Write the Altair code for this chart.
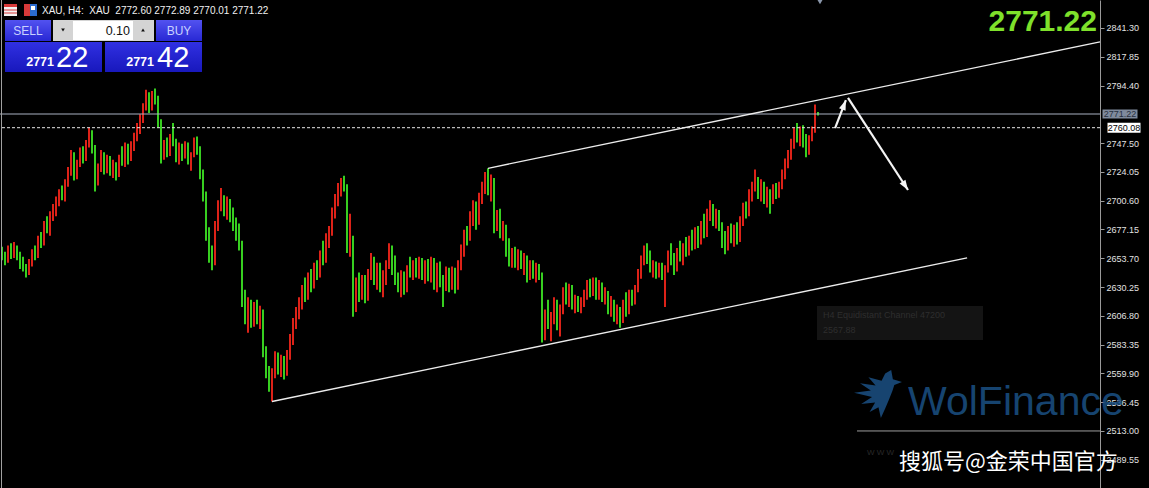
import altair as alt
import pandas as pd

# ---- XAU H4 bars, oldest first ----
opens = [
    2660, 2656, 2652, 2660, 2655, 2662, 2657, 2650, 2646, 2641,
    2650, 2658, 2655, 2669, 2666, 2680, 2677, 2689, 2694, 2700,
    2707, 2704, 2715, 2725, 2738, 2721, 2731, 2740, 2735, 2747,
    2755, 2742, 2716, 2728, 2738, 2726, 2735, 2724, 2730, 2722,
    2735, 2732, 2744, 2736, 2746, 2753, 2761, 2768, 2777, 2786,
    2776, 2787, 2783, 2764, 2738, 2746, 2740, 2751, 2748, 2736,
    2744, 2737, 2745, 2733, 2738, 2749, 2741, 2722, 2704, 2672,
    2656, 2650, 2680, 2697, 2700, 2693, 2698, 2688, 2680, 2672,
    2666, 2620, 2606, 2616, 2603, 2612, 2605, 2610, 2578, 2561,
    2550, 2560, 2572, 2563, 2570, 2560, 2575, 2588, 2600, 2608,
    2618, 2627, 2622, 2638, 2632, 2646, 2641, 2656, 2652, 2670,
    2676, 2690, 2702, 2710, 2714, 2712, 2664, 2668, 2615, 2632,
    2624, 2636, 2621, 2641, 2652, 2638, 2645, 2630, 2640, 2648,
    2660, 2645, 2637, 2630, 2640, 2628, 2645, 2642, 2649, 2641,
    2651, 2640, 2648, 2638, 2650, 2632, 2646, 2634, 2630, 2642,
    2632, 2643, 2630, 2648, 2660, 2672, 2670, 2688, 2696, 2684,
    2702, 2712, 2718, 2709, 2716, 2680, 2690, 2675, 2679, 2660,
    2652, 2657, 2650, 2656, 2648, 2653, 2638, 2648, 2641, 2646,
    2640, 2592, 2608, 2600, 2604, 2617, 2599, 2612, 2626, 2620,
    2629, 2616, 2620, 2614, 2618, 2625, 2632, 2626, 2634, 2624,
    2631, 2622, 2625, 2612, 2618, 2606, 2611, 2603, 2616, 2610,
    2624, 2619, 2629, 2641, 2652, 2660, 2654, 2646, 2649, 2641,
    2647, 2640, 2645, 2656, 2652, 2646, 2658, 2655, 2662, 2659,
    2668, 2664, 2675, 2668, 2680, 2674, 2690, 2695, 2684, 2690,
    2680, 2667, 2664, 2676, 2670, 2678, 2669, 2685, 2695, 2690,
    2706, 2712, 2716, 2706, 2713, 2703, 2708, 2700, 2710, 2706,
    2713, 2722, 2731, 2738, 2747, 2756, 2752, 2758, 2748, 2742,
    2751, 2758, 2772.60,
]
highs = [
    2663, 2659, 2664, 2666, 2667, 2664, 2659, 2655, 2649, 2653,
    2661, 2664, 2672, 2675, 2684, 2688, 2692, 2698, 2704, 2710,
    2713, 2718, 2728, 2742, 2740, 2734, 2744, 2745, 2750, 2760,
    2758, 2746, 2731, 2742, 2740, 2738, 2737, 2734, 2732, 2738,
    2745, 2748, 2747, 2749, 2756, 2764, 2771, 2780, 2791, 2789,
    2790, 2792, 2786, 2767, 2750, 2752, 2755, 2764, 2751, 2748,
    2747, 2749, 2748, 2740, 2752, 2753, 2745, 2726, 2708, 2679,
    2664, 2684, 2701, 2711, 2705, 2704, 2702, 2695, 2687, 2682,
    2668, 2628, 2622, 2620, 2618, 2620, 2615, 2612, 2582, 2566,
    2564, 2578, 2577, 2575, 2574, 2579, 2592, 2605, 2614, 2622,
    2632, 2638, 2642, 2645, 2650, 2652, 2660, 2668, 2674, 2680,
    2695, 2706, 2715, 2719, 2721, 2714, 2690, 2672, 2638, 2642,
    2640, 2640, 2645, 2658, 2655, 2650, 2650, 2644, 2652, 2666,
    2664, 2656, 2642, 2644, 2643, 2648, 2655, 2652, 2654, 2655,
    2654, 2652, 2653, 2655, 2654, 2650, 2651, 2640, 2647, 2646,
    2647, 2646, 2652, 2665, 2677, 2680, 2692, 2701, 2700, 2707,
    2716, 2724, 2727, 2722, 2719, 2693, 2694, 2684, 2681, 2670,
    2662, 2663, 2661, 2660, 2658, 2656, 2652, 2652, 2650, 2649,
    2642, 2612, 2620, 2610, 2622, 2620, 2616, 2630, 2634, 2633,
    2632, 2624, 2623, 2622, 2628, 2636, 2637, 2638, 2638, 2636,
    2634, 2630, 2627, 2623, 2620, 2616, 2614, 2620, 2626, 2628,
    2628, 2632, 2645, 2656, 2664, 2666, 2660, 2652, 2651, 2650,
    2650, 2648, 2660, 2666, 2658, 2662, 2668, 2666, 2671, 2672,
    2677, 2679, 2680, 2684, 2690, 2694, 2701, 2698, 2694, 2693,
    2683, 2676, 2680, 2682, 2681, 2683, 2688, 2699, 2700, 2710,
    2716, 2726, 2720, 2718, 2716, 2712, 2710, 2714, 2715, 2716,
    2726, 2735, 2742, 2751, 2760, 2764, 2761, 2762, 2755, 2754,
    2761, 2779, 2772.89,
]
lows = [
    2652, 2648, 2650, 2653, 2654, 2652, 2645, 2643, 2638, 2640,
    2647, 2652, 2654, 2662, 2664, 2674, 2672, 2684, 2688, 2696,
    2701, 2700, 2712, 2721, 2717, 2718, 2728, 2731, 2733, 2744,
    2739, 2708, 2713, 2724, 2722, 2723, 2721, 2719, 2717, 2720,
    2729, 2728, 2730, 2733, 2741, 2749, 2755, 2764, 2774, 2772,
    2774, 2779, 2760, 2731, 2734, 2736, 2737, 2745, 2732, 2730,
    2733, 2735, 2730, 2725, 2736, 2738, 2718, 2700, 2668, 2650,
    2644, 2648, 2676, 2692, 2688, 2685, 2683, 2676, 2668, 2660,
    2614, 2600, 2593, 2597, 2598, 2600, 2596, 2573, 2556, 2545,
    2537, 2556, 2559, 2557, 2555, 2558, 2571, 2583, 2596, 2604,
    2612, 2618, 2620, 2626, 2629, 2636, 2638, 2648, 2650, 2662,
    2672, 2686, 2696, 2704, 2708, 2658, 2655, 2606, 2610, 2618,
    2620, 2617, 2619, 2636, 2632, 2628, 2626, 2622, 2632, 2645,
    2640, 2632, 2626, 2622, 2624, 2626, 2638, 2636, 2638, 2637,
    2636, 2633, 2635, 2634, 2628, 2626, 2630, 2614, 2627, 2626,
    2628, 2625, 2628, 2644, 2655, 2664, 2668, 2680, 2677, 2681,
    2698, 2706, 2705, 2700, 2674, 2676, 2670, 2668, 2655, 2647,
    2646, 2646, 2644, 2645, 2640, 2634, 2636, 2637, 2634, 2636,
    2585, 2587, 2596, 2586, 2600, 2595, 2590, 2608, 2616, 2614,
    2612, 2609, 2610, 2609, 2614, 2620, 2622, 2623, 2620, 2620,
    2618, 2616, 2608, 2606, 2602, 2600, 2597, 2601, 2606, 2608,
    2615, 2616, 2626, 2637, 2648, 2649, 2642, 2638, 2637, 2638,
    2636, 2614, 2642, 2648, 2640, 2643, 2651, 2648, 2655, 2656,
    2660, 2661, 2662, 2665, 2670, 2671, 2684, 2680, 2678, 2676,
    2662, 2657, 2660, 2666, 2663, 2665, 2667, 2680, 2686, 2688,
    2700, 2708, 2702, 2700, 2698, 2695, 2690, 2698, 2702, 2703,
    2710, 2718, 2727, 2734, 2743, 2748, 2745, 2744, 2736, 2738,
    2749, 2756, 2770.01,
]
closes = [
    2656, 2652, 2660, 2655, 2662, 2657, 2650, 2646, 2641, 2650,
    2658, 2655, 2669, 2666, 2680, 2677, 2689, 2694, 2700, 2707,
    2704, 2715, 2725, 2738, 2721, 2731, 2740, 2735, 2747, 2755,
    2742, 2716, 2728, 2738, 2726, 2735, 2724, 2730, 2722, 2735,
    2732, 2744, 2736, 2746, 2753, 2761, 2768, 2777, 2786, 2776,
    2787, 2783, 2764, 2738, 2746, 2740, 2751, 2748, 2736, 2744,
    2737, 2745, 2733, 2738, 2749, 2741, 2722, 2704, 2672, 2656,
    2650, 2680, 2697, 2700, 2693, 2698, 2688, 2680, 2672, 2666,
    2620, 2606, 2616, 2603, 2612, 2605, 2610, 2578, 2561, 2550,
    2560, 2572, 2563, 2570, 2560, 2575, 2588, 2600, 2608, 2618,
    2627, 2622, 2638, 2632, 2646, 2641, 2656, 2652, 2670, 2676,
    2690, 2702, 2710, 2714, 2712, 2664, 2668, 2615, 2632, 2624,
    2636, 2621, 2641, 2652, 2638, 2645, 2630, 2640, 2648, 2660,
    2645, 2637, 2630, 2640, 2628, 2645, 2642, 2649, 2641, 2651,
    2640, 2648, 2638, 2650, 2632, 2646, 2634, 2630, 2642, 2632,
    2643, 2630, 2648, 2660, 2672, 2670, 2688, 2696, 2684, 2702,
    2712, 2718, 2709, 2716, 2680, 2690, 2675, 2679, 2660, 2652,
    2657, 2650, 2656, 2648, 2653, 2638, 2648, 2641, 2646, 2640,
    2592, 2608, 2600, 2604, 2617, 2599, 2612, 2626, 2620, 2629,
    2616, 2620, 2614, 2618, 2625, 2632, 2626, 2634, 2624, 2631,
    2622, 2625, 2612, 2618, 2606, 2611, 2603, 2616, 2610, 2624,
    2619, 2629, 2641, 2652, 2660, 2654, 2646, 2649, 2641, 2647,
    2640, 2645, 2656, 2652, 2646, 2658, 2655, 2662, 2659, 2668,
    2664, 2675, 2668, 2680, 2674, 2690, 2695, 2684, 2690, 2680,
    2667, 2664, 2676, 2670, 2678, 2669, 2685, 2695, 2690, 2706,
    2712, 2716, 2706, 2713, 2703, 2708, 2700, 2710, 2706, 2713,
    2722, 2731, 2738, 2747, 2756, 2752, 2758, 2748, 2742, 2751,
    2758, 2772.60, 2771.22,
]

# ---- objects drawn on the price scale (bar index, price) ----
bid_price = 2771.22
alert_price = 2760.08
level_price = 2513.00
level_start = 285.0
channel_top_i = [162.0, 366.0]
channel_top_p = [2727.0, 2830.0]
channel_low_i = [90.0, 321.7]
channel_low_p = [2537.0, 2654.0]
arrow_up_i = [277.7, 281.3]
arrow_up_p = [2759.8, 2782.6]
arrow_down_i = [282.0, 302.0]
arrow_down_p = [2784.3, 2709.3]

tick_values = [2841.30, 2817.85, 2794.40, 2747.50, 2724.05, 2700.60, 2677.15,
               2653.70, 2630.25, 2606.80, 2583.35, 2559.90, 2536.45, 2513.00, 2489.55]

Y_DOMAIN = [2466.53, 2864.11]
X_DOMAIN = [-0.6667, 366.0]
RED = "#e8241a"
GREEN = "#3ada22"
FONT = "Liberation Sans"

bars = pd.DataFrame({"i": list(range(len(closes))), "o": opens, "h": highs, "l": lows, "c": closes})
bars["dir"] = ["up" if c >= o else "down" for o, c in zip(opens, closes)]

xscale = alt.Scale(domain=X_DOMAIN, nice=False, zero=False)
yscale = alt.Scale(domain=Y_DOMAIN, nice=False, zero=False)

# the same axis definition is given to every layer so the merged axis survives
price_axis = alt.Axis(
    orient="right", values=tick_values, format=".2f", title=None, grid=False,
    domainColor="#9a9a9a", tickColor="#9a9a9a", tickSize=4, labelPadding=2,
    labelColor="#e2e2e2", labelFont=FONT, labelFontSize=9, labelOverlap=False,
)


def Yp(field):
    return alt.Y(field, scale=yscale, axis=price_axis)


def Xi(field):
    return alt.X(field, scale=xscale, axis=None)


bar_layer = alt.Chart(bars).mark_rule(strokeWidth=1.9).encode(
    x=Xi("i:Q"),
    y=Yp("l:Q"),
    y2="h:Q",
    color=alt.Color("dir:N", scale=alt.Scale(domain=["up", "down"], range=[RED, GREEN]), legend=None),
)


def seg(xs, ps, color, width, dash=None):
    df = pd.DataFrame({"i": xs, "l": ps})
    kw = dict(color=color, strokeWidth=width)
    if dash:
        kw["strokeDash"] = dash
    return alt.Chart(df).mark_line(**kw).encode(x=Xi("i:Q"), y=Yp("l:Q"))


def hline(price, color, width=1, dash=None):
    df = pd.DataFrame({"l": [price]})
    kw = dict(color=color, strokeWidth=width)
    if dash:
        kw["strokeDash"] = dash
    return alt.Chart(df).mark_rule(**kw).encode(y=Yp("l:Q"))


one = pd.DataFrame({"k": [0]})


def text_at(txt, x, y, size, color, weight="normal", align="left", font=FONT,
            baseline="middle", opacity=1.0):
    return alt.Chart(one).mark_text(
        align=align, baseline=baseline, font=font, fontSize=size,
        fontWeight=weight, color=color, opacity=opacity,
    ).encode(x=alt.value(x), y=alt.value(y), text=alt.value(txt))


def rect_at(x, y, x2, y2, fill, opacity=1.0):
    return alt.Chart(one).mark_rect(fill=fill, opacity=opacity).encode(
        x=alt.value(x), x2=alt.value(x2), y=alt.value(y), y2=alt.value(y2))


def symbol_at(shape, x, y, size, color, angle=0, opacity=1.0):
    return alt.Chart(one).mark_point(
        shape=shape, size=size, filled=True, color=color, opacity=opacity,
        angle=angle, strokeWidth=0,
    ).encode(x=alt.value(x), y=alt.value(y))


ARROW_HEAD = "M0,0L0.45,1.3L-0.45,1.3Z"
# howling wolf head with swept fur, nose to the upper right
WOLF = ("M0.55,-1L0.62,-0.62L1,-0.5L0.68,-0.38L0.6,-0.12L0.45,0.25L0.3,0.6L0.12,1"
        "L0.02,0.55L-0.35,0.75L-0.12,0.35L-0.7,0.42L-0.25,0.12L-1,-0.05L-0.3,-0.15"
        "L-0.75,-0.45L-0.1,-0.35L-0.4,-0.7L0.15,-0.55L0.3,-0.85Z")

# price-scale objects
bid_line = hline(bid_price, "#a9b1c2")
alert_line = hline(alert_price, "#e6e6e6", dash=[3, 2])
level_line = alt.Chart(pd.DataFrame({"a": [level_start], "b": [X_DOMAIN[1]], "l": [level_price]})).mark_rule(
    color="#9c9c9c", strokeWidth=1).encode(x=Xi("a:Q"), x2="b:Q", y=Yp("l:Q"))

top_channel = seg(channel_top_i, channel_top_p, "#ececec", 1.3)
low_channel = seg(channel_low_i, channel_low_p, "#ececec", 1.3)
up_arrow = seg(arrow_up_i, arrow_up_p, "#f4f4f4", 2.2)
down_arrow = seg(arrow_down_i, arrow_down_p, "#f4f4f4", 2.2)


def head(i, p, angle):
    df = pd.DataFrame({"i": [i], "l": [p]})
    return alt.Chart(df).mark_point(shape=ARROW_HEAD, size=240, filled=True, color="#f4f4f4",
                                    opacity=1, angle=angle, strokeWidth=0).encode(
        x=Xi("i:Q"), y=Yp("l:Q"))


up_head = head(arrow_up_i[1], arrow_up_p[1], 21)
down_head = head(arrow_down_i[1], arrow_down_p[1], 147)

# price tags on the axis
bid_tag = alt.Chart(pd.DataFrame({"l": [bid_price]})).mark_tick(
    orient="horizontal", size=35, thickness=9, color="#7f8a9c", opacity=1).encode(
    x=alt.value(1120), y=Yp("l:Q"))
bid_tag_text = alt.Chart(pd.DataFrame({"l": [bid_price], "t": ["2771.22"]})).mark_text(
    align="center", baseline="middle", font=FONT, fontSize=9, color="#27303f").encode(
    x=alt.value(1120), y=Yp("l:Q"), text="t:N")
alert_tag = alt.Chart(pd.DataFrame({"l": [alert_price]})).mark_tick(
    orient="horizontal", size=33, thickness=10, color="#ffffff", opacity=1).encode(
    x=alt.value(1124), y=Yp("l:Q"))
alert_tag_text = alt.Chart(pd.DataFrame({"l": [alert_price], "t": ["2760.08"]})).mark_text(
    align="center", baseline="middle", font=FONT, fontSize=9, color="#000000").encode(
    x=alt.value(1124), y=Yp("l:Q"), text="t:N")

# one-click trading panel
btn_grad = alt.Gradient(gradient="linear", x1=0, x2=0, y1=0, y2=1, stops=[
    alt.GradientStop(color="#5252f0", offset=0), alt.GradientStop(color="#2828d4", offset=1)])
box_grad = alt.Gradient(gradient="linear", x1=0, x2=0, y1=0, y2=1, stops=[
    alt.GradientStop(color="#3030e2", offset=0), alt.GradientStop(color="#1818bc", offset=1)])

panel = [
    rect_at(5, 20, 51, 41, btn_grad),
    rect_at(156, 20, 202, 41, btn_grad),
    rect_at(53, 20, 154, 41, "#d4d4d4"),
    rect_at(73, 21, 133, 40, "#ffffff"),
    rect_at(5, 42, 102, 72, box_grad),
    rect_at(105, 42, 202, 72, box_grad),
    text_at("SELL", 28, 31, 12, "#c9d2ff", align="center"),
    text_at("BUY", 179, 31, 12, "#c9d2ff", align="center"),
    text_at("0.10", 130, 31, 12.5, "#111111", align="right"),
    symbol_at("triangle-down", 63, 30, 14, "#111111"),
    symbol_at("triangle-up", 143, 30, 14, "#111111"),
    text_at("2771", 54, 66, 12.5, "#ffffff", weight="bold", align="right", baseline="alphabetic"),
    text_at("22", 56, 67, 29, "#ffffff", baseline="alphabetic"),
    text_at("2771", 154, 66, 12.5, "#ffffff", weight="bold", align="right", baseline="alphabetic"),
    text_at("42", 157, 67, 29, "#ffffff", baseline="alphabetic"),
]

# header icons and symbol line
nb = "\u00a0"
header = [
    rect_at(4, 4, 17, 16, "#f2f2f2"),
    rect_at(4, 4, 17, 7, "#d83a3a"),
    rect_at(4, 9.5, 17, 10.5, "#d83a3a"),
    rect_at(4, 12.5, 17, 13.5, "#d83a3a"),
    rect_at(24, 4, 30, 16, "#d83a3a"),
    rect_at(30, 4, 37, 16, "#2a6bd0"),
    rect_at(31, 6, 35, 10, "#ffffff"),
    text_at(f"XAU, H4:{nb}{nb}XAU{nb}{nb}2772.60 2772.89 2770.01 2771.22", 42, 10.5, 10, "#f0f0f0"),
    symbol_at("triangle-down", 820, 1, 60, "#8a96aa"),
    text_at("2771.22", 1097, 22, 30, "#7fe12b", weight="bold", align="right"),
]

# left border, info box, watermark
extras = [
    alt.Chart(one).mark_rule(color="#a0a0a0", strokeWidth=1).encode(
        x=alt.value(1.5), y=alt.value(0), y2=alt.value(488)),
    rect_at(817, 306, 983, 340, "#141414"),
    text_at("H4 Equidistant Channel 47200", 823, 315, 9, "#2e2e2e"),
    text_at("2567.88", 823, 330, 9, "#2e2e2e"),
    symbol_at(WOLF, 878, 394, 2300, "#1b5084", opacity=0.85),
    text_at("WolFinance", 908, 415, 41, "#1b5084", baseline="alphabetic", opacity=0.85),
    text_at("W W W", 867, 453, 8, "#2a2a2a"),
    text_at("搜狐号@金荣中国官方", 899, 462, 22, "#ffffff", font="Noto Sans CJK SC"),
]

chart = alt.layer(
    bar_layer, level_line, bid_line, alert_line, top_channel, low_channel,
    up_arrow, down_arrow, up_head, down_head,
    bid_tag, bid_tag_text, alert_tag, alert_tag_text,
    *extras, *header, *panel,
).properties(
    width=1100, height=488,
    padding={"left": 0, "top": 0, "right": 49, "bottom": 0},
    autosize=alt.AutoSizeParams(type="none"),
    background="#000000",
).configure_view(strokeWidth=0)

chart.save("out.html", embed_options={"renderer": "svg", "actions": False})
